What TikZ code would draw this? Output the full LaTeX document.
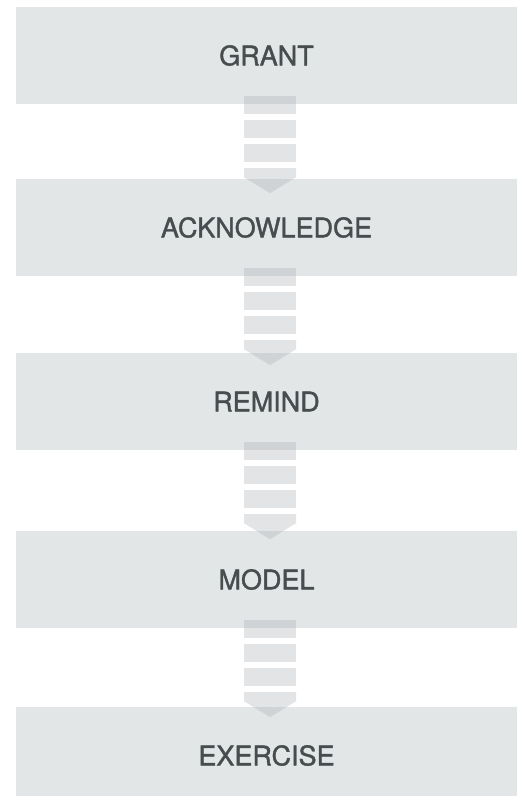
\documentclass[tikz,border=0pt]{standalone}
\usepackage{fontspec}
\newfontfamily\stagefont[FakeBold=1.4]{TeX Gyre Heros}
\usetikzlibrary{calc}
\definecolor{boxfill}{HTML}{E3E6E7}
\definecolor{segfill}{HTML}{AEB4B6}
\definecolor{txtgray}{HTML}{474D4E}
\tikzset{
  stagebox/.style={fill=boxfill, draw=none, minimum width=501pt, minimum height=97pt,
    inner sep=0pt, text=txtgray, font=\stagefont\fontsize{27}{31}\selectfont},
  linkseg/.style={fill=segfill, fill opacity=0.36, draw=none}
}
\newcommand\flowlink[1]{%
  \begin{scope}[shift={($(#1.south)+(3.5,0)$)}]
    \fill[linkseg] (-26,-8) rectangle (26,10);
    \fill[linkseg] (-26,16) rectangle (26,34);
    \fill[linkseg] (-26,40) rectangle (26,58);
    \fill[linkseg] (-26,64) -- (26,64) -- (26,73) -- (0,89) -- (-26,73) -- cycle;
  \end{scope}}
\begin{document}
\begin{tikzpicture}[x=1pt,y=-1pt]
\useasboundingbox (0,0) rectangle (521,796);
\node[stagebox] (grant) at (266.5,55.5) {GRANT};
\node[stagebox] (ack) at (266.5,227.5) {ACKNOWLEDGE};
\node[stagebox] (remind) at (266.5,401.5) {REMIND};
\node[stagebox] (model) at (266.5,579.5) {MODEL};
\node[stagebox] (exercise) at (266.5,755.5) {EXERCISE};
\flowlink{grant}
\flowlink{ack}
\flowlink{remind}
\flowlink{model}
\end{tikzpicture}
\end{document}
